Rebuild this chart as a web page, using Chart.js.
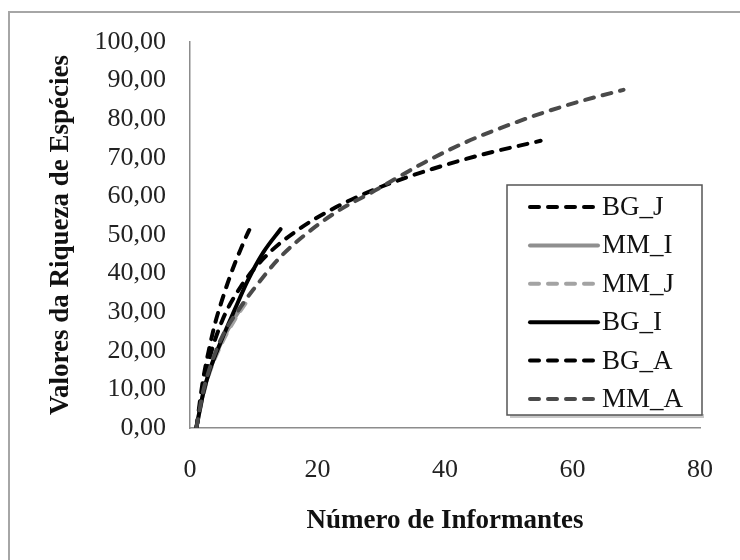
<!DOCTYPE html>
<html>
<head>
<meta charset="utf-8">
<script src="https://cdn.jsdelivr.net/npm/chart.js@4.4.1/dist/chart.umd.min.js"></script>
<style>
  html, body { margin: 0; padding: 0; background: #fff; }
</style>
</head>
<body>
<canvas id="riqueza" width="740" height="560"></canvas>
<script>
// Series data (x = informants, y = species richness)
const seriesNames = ["BG_J", "MM_I", "MM_J", "BG_I", "BG_A", "MM_A"];

const bgJx = [1, 2, 3, 4, 5, 6, 7, 8, 9, 9.3];
const bgJy = [0, 12, 20.5, 27.5, 33, 38, 42.5, 46.5, 50.3, 51.3];

const mmIx = [1, 2, 3, 5, 7, 8];
const mmIy = [0, 8.5, 14.5, 22.5, 28.5, 31];

const mmJx = [1, 2, 3, 5, 7, 9];
const mmJy = [0, 8, 14, 22, 28, 33];

const bgIx = [1, 2, 3, 5, 7, 9, 11.5, 14.2];
const bgIy = [0, 8.5, 14.5, 23, 30.6, 38, 45.5, 51.5];

const bgAx = [1, 2, 3, 5, 8, 12, 17, 23, 30, 38, 46, 55];
const bgAy = [0, 9.7, 17.6, 27.6, 36.7, 44.7, 51.4, 57.3, 62.5, 67.1, 70.9, 74.4];

const mmAx = [1, 2, 3, 5, 8, 10, 14, 18, 23, 29, 37, 44, 50, 56, 62, 68];
const mmAy = [0, 9, 15, 23.5, 31.5, 36, 44, 50, 56, 61.5, 69, 74.6, 78.5, 82, 85, 87.6];

const xTicks = [0, 20, 40, 60, 80];
const yTicks = [0, 10, 20, 30, 40, 50, 60, 70, 80, 90, 100];

function toPoints(xs, ys) {
    return xs.map((x, i) => ({ x: x, y: ys[i] }));
}

const serif = "'Liberation Serif', 'Times New Roman', serif";
const dash = [9, 9];

// Outer frame + legend box drawn inside the plot, like the original
const frameLegend = {
    id: "frameLegend",
    afterDraw(chart) {
        const ctx = chart.ctx;
        ctx.save();
        ctx.strokeStyle = "#a6a6a6";
        ctx.lineWidth = 2;
        ctx.strokeRect(9, 12, 800, 700);

        // legend box
        ctx.fillStyle = "#c8c8c8";
        ctx.fillRect(510, 414, 194, 4);
        ctx.fillStyle = "#fff";
        ctx.fillRect(507, 185, 195, 230);
        ctx.strokeStyle = "#555";
        ctx.lineWidth = 1.5;
        ctx.strokeRect(507, 185, 195, 230);

        chart.data.datasets.forEach((ds, i) => {
            const y = 207 + i * 38.4;
            ctx.strokeStyle = ds.borderColor;
            ctx.lineWidth = ds.borderWidth;
            ctx.lineCap = "round";
            ctx.setLineDash(ds.borderDash || []);
            ctx.beginPath();
            ctx.moveTo(530, y);
            ctx.lineTo(598, y);
            ctx.stroke();
            ctx.setLineDash([]);
            ctx.fillStyle = "#111";
            ctx.font = "27px " + serif;
            ctx.textBaseline = "middle";
            ctx.textAlign = "left";
            ctx.fillText(ds.label, 602, y + 1);
        });
        ctx.restore();
    }
};

const styles = [
    { color: "#000000", dash: dash },
    { color: "#8f8f8f", dash: [] },
    { color: "#a3a3a3", dash: dash },
    { color: "#000000", dash: [] },
    { color: "#000000", dash: dash },
    { color: "#4a4a4a", dash: dash }
];
const xs = [bgJx, mmIx, mmJx, bgIx, bgAx, mmAx];
const ys = [bgJy, mmIy, mmJy, bgIy, bgAy, mmAy];

const riquezaChart = new Chart(document.getElementById("riqueza"), {
    type: "scatter",
    data: {
        datasets: seriesNames.map((name, i) => ({
            label: name,
            data: toPoints(xs[i], ys[i]),
            showLine: true,
            borderColor: styles[i].color,
            borderDash: styles[i].dash,
            borderWidth: 4,
            borderCapStyle: "round",
            pointRadius: 0,
            cubicInterpolationMode: "monotone",
            order: seriesNames.length - i // later series on top, as in Excel
        }))
    },
    plugins: [frameLegend],
    options: {
        responsive: false,
        animation: false,
        devicePixelRatio: 1,
        layout: { padding: { left: 10, right: 35, top: 42, bottom: 0 } },
        plugins: {
            legend: { display: false },
            tooltip: { enabled: false }
        },
        scales: {
            x: {
                type: "linear",
                min: 0,
                max: 80,
                afterBuildTicks: s => { s.ticks = xTicks.map(v => ({ value: v })); },
                afterFit: s => { s.height = 132; },
                grid: { display: false, drawTicks: false },
                border: { color: "#8c8c8c", width: 1.5 },
                ticks: { padding: 27, color: "#222", font: { family: serif, size: 26 } },
                title: {
                    display: true,
                    text: "Número de Informantes",
                    color: "#111",
                    font: { family: serif, size: 27, weight: "bold" },
                    padding: { top: 0, bottom: 23 }
                }
            },
            y: {
                min: 0,
                max: 100,
                afterBuildTicks: s => { s.ticks = yTicks.map(v => ({ value: v })); },
                afterFit: s => { s.width = 180; },
                grid: { display: false, drawTicks: false },
                border: { color: "#8c8c8c", width: 1.5 },
                ticks: {
                    padding: 24,
                    color: "#222",
                    font: { family: serif, size: 26 },
                    callback: v => v.toFixed(2).replace(".", ",")
                },
                title: {
                    display: true,
                    text: "Valores da Riqueza de Espécies",
                    color: "#111",
                    font: { family: serif, size: 27, weight: "bold" },
                    padding: { top: 35, bottom: 0 }
                }
            }
        }
    }
});
</script>
</body>
</html>
